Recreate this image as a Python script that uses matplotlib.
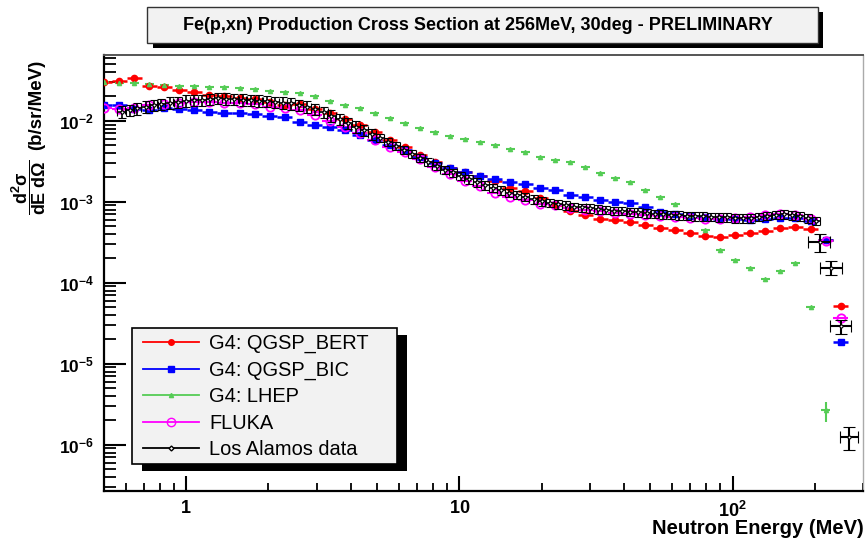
import numpy as np
import matplotlib
matplotlib.use('Agg')
import matplotlib.pyplot as plt
from matplotlib.patches import Rectangle
from matplotlib.lines import Line2D
from matplotlib.ticker import FixedLocator, FuncFormatter, NullFormatter

plt.rcParams['font.family'] = ['Liberation Sans', 'DejaVu Sans']
plt.rcParams['mathtext.fontset'] = 'custom'
plt.rcParams['mathtext.rm'] = 'Liberation Sans'
plt.rcParams['mathtext.bf'] = 'Liberation Sans:bold'
plt.rcParams['mathtext.it'] = 'Liberation Sans:italic'

# ---------------- data ----------------
E_sim = [0.501, 0.569, 0.646, 0.733, 0.832, 0.944, 1.072, 1.216, 1.380, 1.567,
         1.778, 2.018, 2.291, 2.600, 2.951, 3.350, 3.802, 4.315, 4.898, 5.559,
         6.310, 7.161, 8.128, 9.226, 10.47, 11.89, 13.49, 15.31, 17.38, 19.72,
         22.39, 25.41, 28.84, 32.73, 37.15, 42.17, 47.86, 54.33, 61.66, 69.98,
         79.43, 90.16, 102.3, 116.1, 131.8, 149.6, 169.8, 192.8, 218.8, 248.3]

qgsp_bert = [0.030, 0.031, 0.034, 0.027, 0.026, 0.024, 0.023, 0.021, 0.020, 0.019,
             0.0185, 0.017, 0.0155, 0.016, 0.014, 0.0125, 0.0105, 0.0088, 0.0073, 0.0058,
             0.0047, 0.0038, 0.0031, 0.0026, 0.0023, 0.0021, 0.0018, 0.0015, 0.00135, 0.0011,
             0.00092, 0.00078, 0.00068, 0.00061, 0.00059, 0.00057, 0.00052, 0.00048, 0.00045, 0.00041,
             0.00038, 0.00037, 0.00039, 0.00041, 0.00044, 0.00048, 0.00049, 0.00046, 0.00034, 5.2e-5]

qgsp_bic = [0.0155, 0.0158, 0.014, 0.0135, 0.0145, 0.014, 0.0135, 0.013, 0.0125, 0.0125,
            0.012, 0.0115, 0.011, 0.0098, 0.0089, 0.0085, 0.0076, 0.0066, 0.0058, 0.005,
            0.0043, 0.0036, 0.003, 0.0026, 0.0023, 0.0021, 0.0019, 0.00178, 0.00165, 0.0015,
            0.0014, 0.00122, 0.00115, 0.00106, 0.001, 0.00097, 0.00085, 0.00075, 0.0007, 0.00066,
            0.00064, 0.00062, 0.00061, 0.0006, 0.00062, 0.00063, 0.00063, 0.00058, 0.00034, 1.87e-5]

lhep = [0.030, 0.0295, 0.029, 0.0285, 0.028, 0.0272, 0.027, 0.0265, 0.026, 0.0255,
        0.025, 0.0235, 0.0228, 0.022, 0.020, 0.0175, 0.0158, 0.0143, 0.0124, 0.0108,
        0.0095, 0.0082, 0.0073, 0.0065, 0.0060, 0.0054, 0.0050, 0.0045, 0.0041, 0.0036,
        0.0033, 0.0031, 0.0027, 0.00227, 0.00198, 0.00177, 0.0014, 0.00116, 0.00095, 0.00068,
        0.00045, 0.000257, 0.00019, 0.000153, 0.00011, 0.00014, 0.000177, 5.0e-5, 2.7e-6, np.nan]
lhep_last_err = [0.8e-6, 0.7e-6]

fluka = [0.0145, 0.0138, 0.0145, 0.0155, 0.016, 0.0165, 0.017, 0.0172, 0.0168, 0.0165,
         0.016, 0.015, 0.0145, 0.0135, 0.0118, 0.0100, 0.0084, 0.0070, 0.0058, 0.0047,
         0.0041, 0.0034, 0.0027, 0.0022, 0.0018, 0.00155, 0.0013, 0.00115, 0.00105, 0.00095,
         0.0009, 0.00084, 0.0008, 0.00076, 0.00072, 0.0007, 0.00068, 0.00066, 0.00064, 0.00063,
         0.00062, 0.00062, 0.00063, 0.00065, 0.00068, 0.0007, 0.00068, 0.00062, 0.00033, 3.7e-5]

E_data = [0.58, 0.62, 0.66, 0.71, 0.76, 0.81, 0.87, 0.93, 1.0, 1.07,
          1.14, 1.22, 1.31, 1.40, 1.50, 1.61, 1.72, 1.84, 1.97, 2.11,
          2.26, 2.42, 2.59, 2.77, 2.97, 3.18, 3.40, 3.64, 3.90, 4.17,
          4.47, 4.78, 5.12, 5.48, 5.87, 6.28, 6.72, 7.2, 7.7, 8.25,
          8.83, 9.45, 10.1, 10.8, 11.6, 12.4, 13.3, 14.2, 15.2, 16.3,
          17.4, 18.7, 20.0, 21.4, 22.9, 24.5, 26.2, 28.1, 30.0, 32.2,
          34.4, 36.9, 39.5, 42.2, 45.2, 48.4, 51.8, 55.4, 59.3, 63.5,
          68.0, 72.8, 77.9, 83.4, 89.2, 95.5, 102, 109, 117, 125,
          134, 144, 154, 165, 176, 189, 202]
los_alamos = [0.0130, 0.0135, 0.0142, 0.0150, 0.0156, 0.0162, 0.0168, 0.0172, 0.0178, 0.0182,
              0.0180, 0.0186, 0.0190, 0.0188, 0.0185, 0.0183, 0.0180, 0.0178, 0.0176, 0.0172,
              0.0168, 0.0164, 0.0158, 0.0150, 0.0140, 0.0128, 0.0116, 0.0105, 0.0094, 0.0085,
              0.0077, 0.0069, 0.0062, 0.0055, 0.0049, 0.0044, 0.0039, 0.0035, 0.0031, 0.0028,
              0.0025, 0.0023, 0.0021, 0.0019, 0.00175, 0.0016, 0.00148, 0.00138, 0.0013, 0.00122,
              0.00115, 0.00108, 0.00102, 0.00097, 0.00093, 0.0009, 0.00087, 0.00085, 0.00083, 0.00081,
              0.0008, 0.00078, 0.00077, 0.00075, 0.00074, 0.00072, 0.00071, 0.0007, 0.00069, 0.00068,
              0.00067, 0.00066, 0.00066, 0.00065, 0.00064, 0.00064, 0.00063, 0.00063, 0.00063, 0.00065,
              0.00067, 0.00069, 0.0007, 0.00068, 0.00066, 0.00063, 0.00058]

E_tail = [208, 230, 250, 267]
tail_xerr = [19, 21, 22, 20]
los_alamos_tail = [3.2e-4, 1.53e-4, 2.9e-5, 1.26e-6]
tail_yerr = [0.8e-4, 0.3e-4, 0.6e-5, 0.4e-6]

# ---------------- figure ----------------
W, H = 865, 542
fig = plt.figure(figsize=(W / 100, H / 100), dpi=100)
fig.patch.set_facecolor('white')
ax = fig.add_axes([104 / W, 1 - 490.7 / H, (863 - 104) / W, (490.7 - 55) / H])
ax.set_xscale('log')
ax.set_yscale('log')
ax.set_xlim(0.5, 300)
ax.set_ylim(2.7e-7, 6.5e-2)

E = np.array(E_sim)
half = 10 ** 0.0275
xlo = E - E / half
xhi = E * half - E

ax.errorbar(E, qgsp_bert, xerr=[xlo, xhi], fmt='o', color='#ff0000', ms=4.5,
            elinewidth=1.8, capsize=0, zorder=3)
ax.errorbar(E, qgsp_bic, xerr=[xlo, xhi], fmt='s', color='#0000ff', ms=5,
            elinewidth=1.8, capsize=0, zorder=3)
ax.errorbar(E, lhep, xerr=[xlo * 0.6, xhi * 0.6], fmt='^', color='#55cc55', ms=3,
            elinewidth=1.5, capsize=0, zorder=3)
ax.errorbar([E[48]], [lhep[48]], yerr=[[lhep_last_err[0]], [lhep_last_err[1]]], fmt='none',
            ecolor='#55cc55', elinewidth=1.5, capsize=0, zorder=3)
ax.errorbar(E, fluka, xerr=[xlo, xhi], fmt='o', color='#ff00ff', mfc='none', mew=1.3,
            ms=6, elinewidth=1.5, capsize=0, zorder=3)

Ed = np.array(E_data)
yd = np.array(los_alamos)
rel = np.where(Ed < 5, 0.16, 0.12)
ax.errorbar(Ed, yd, xerr=Ed * 0.035, yerr=yd * rel, fmt='D', color='black', mfc='white',
            ms=2, mew=0.8, elinewidth=1.2, capsize=3, capthick=1.2, zorder=4)
ax.errorbar(E_tail, los_alamos_tail, xerr=tail_xerr, yerr=tail_yerr, fmt='D', color='black',
            mfc='white', ms=2, mew=0.8, elinewidth=1.5, capsize=4, capthick=1.5, zorder=4)

# axes style (ROOT-like)
for s in ['left', 'bottom']:
    ax.spines[s].set_linewidth(1.6)
    ax.spines[s].set_color('black')
ax.spines['top'].set_color('#555555')
ax.spines['top'].set_linewidth(1.4)
ax.spines['right'].set_color('#aaaaaa')
ax.spines['right'].set_linewidth(1.0)

ax.xaxis.set_major_locator(FixedLocator([1, 10, 100]))
ax.xaxis.set_major_formatter(FuncFormatter(
    lambda v, p: {1: r'$\mathbf{1}$', 10: r'$\mathbf{10}$', 100: r'$\mathbf{10^{2}}$'}.get(int(round(v)), '')))
xminor = [m * 10 ** d for d in (-1, 0, 1, 2) for m in range(2, 10) if 0.5 <= m * 10 ** d <= 300]
ax.xaxis.set_minor_locator(FixedLocator(xminor))
ax.xaxis.set_minor_formatter(NullFormatter())

ax.yaxis.set_major_locator(FixedLocator([1e-6, 1e-5, 1e-4, 1e-3, 1e-2]))
ax.yaxis.set_major_formatter(FuncFormatter(
    lambda v, p: r'$\mathbf{10^{%d}}$' % int(round(np.log10(v)))))
yminor = [m * 10.0 ** d for d in range(-7, -1) for m in range(2, 10) if 2.7e-7 <= m * 10.0 ** d <= 6.5e-2]
ax.yaxis.set_minor_locator(FixedLocator(yminor))
ax.yaxis.set_minor_formatter(NullFormatter())

ax.tick_params(axis='x', which='major', direction='in', length=11, width=1.5, labelsize=13,
               pad=7, top=False)
ax.tick_params(axis='x', which='minor', direction='in', length=5.5, width=1.3, top=False)
ax.tick_params(axis='y', which='major', direction='in', length=16, width=1.5, labelsize=12.5,
               pad=7, right=False)
ax.tick_params(axis='y', which='minor', direction='in', length=8.5, width=1.3, right=False)

# axis titles
fig.text(864 / W, 1 - 529 / H, 'Neutron Energy (MeV)', ha='right', va='center',
         fontsize=14.5, fontweight='bold')
fig.text(29 / W, 1 - 187 / H, r'$\mathbf{\dfrac{d^{2}\sigma}{dE\ d\Omega}}$',
         rotation=90, ha='center', va='center', fontsize=13, fontweight='bold')
fig.text(37 / W, 1 - 105 / H, '(b/sr/MeV)',
         rotation=90, ha='center', va='center', fontsize=13.5, fontweight='bold')

# title box with shadow
fig.patches.append(Rectangle((153 / W, 1 - 48 / H), (823 - 153) / W, (48 - 12) / H,
                             transform=fig.transFigure, facecolor='black', edgecolor='none', zorder=1))
fig.patches.append(Rectangle((147 / W, 1 - 43 / H), (818 - 147) / W, (43 - 7) / H,
                             transform=fig.transFigure, facecolor='#f2f2f2', edgecolor='#333333',
                             linewidth=1.0, zorder=2))
fig.text(478 / W, 1 - 25 / H, 'Fe(p,xn) Production Cross Section at 256MeV, 30deg - PRELIMINARY',
         ha='center', va='center', fontsize=13, fontweight='bold', zorder=3)

# legend box (drawn in figure pixels) with shadow
lx0, lx1, ly0, ly1 = 132, 397, 328, 464
fig.patches.append(Rectangle(((lx0 + 10) / W, 1 - (ly1 + 7) / H), (lx1 - lx0) / W, (ly1 - ly0) / H,
                             transform=fig.transFigure, facecolor='black', edgecolor='none', zorder=5))
fig.patches.append(Rectangle((lx0 / W, 1 - ly1 / H), (lx1 - lx0) / W, (ly1 - ly0) / H,
                             transform=fig.transFigure, facecolor='#f2f2f2', edgecolor='black',
                             linewidth=1.2, zorder=6))

handles = [
    Line2D([], [], color='#ff0000', marker='o', ms=4, lw=1.3),
    Line2D([], [], color='#0000ff', marker='s', ms=5, lw=1.3),
    Line2D([], [], color='#55cc55', marker='^', ms=3, lw=1.3),
    Line2D([], [], color='#ff00ff', marker='o', mfc='none', ms=6, lw=1.3),
    Line2D([], [], color='black', marker='D', mfc='white', ms=2.5, lw=1.3),
]
labels = ['G4: QGSP_BERT', 'G4: QGSP_BIC', 'G4: LHEP', 'FLUKA', 'Los Alamos data']
leg = fig.legend(handles, labels, loc='upper left', bbox_to_anchor=(143 / W, 1 - 334 / H),
                 bbox_transform=fig.transFigure, frameon=False,
                 fontsize=14.4, handlelength=2.8, handletextpad=0.5, labelspacing=0.37,
                 borderaxespad=0, borderpad=0.0)
leg.set_zorder(10)

fig.savefig('out.png', dpi=100)
